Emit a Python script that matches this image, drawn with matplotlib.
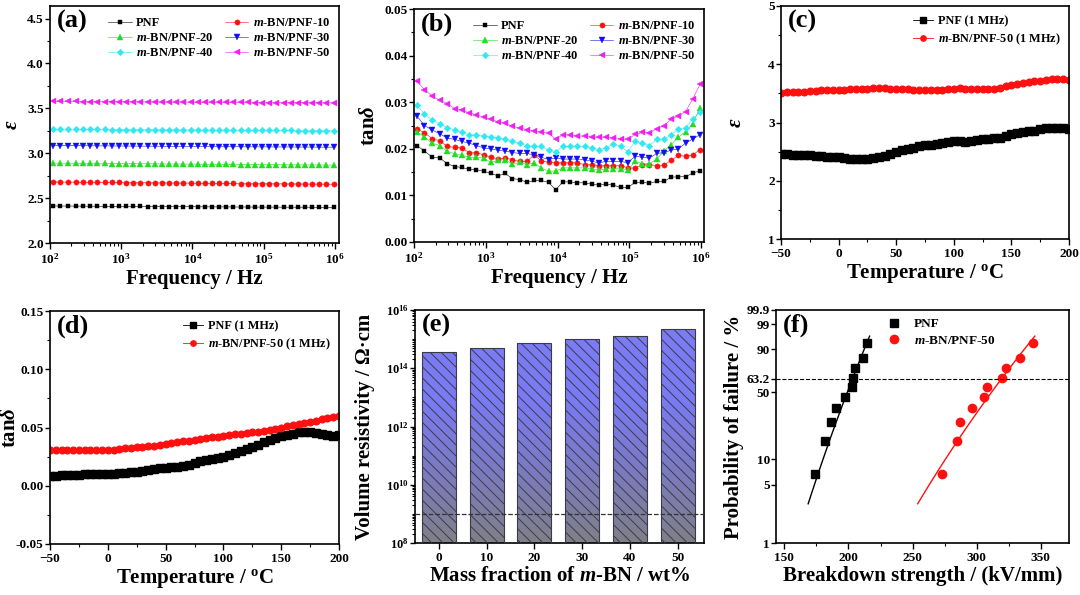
import numpy as np
import matplotlib
matplotlib.use('Agg')
import matplotlib.pyplot as plt
from matplotlib.colors import LinearSegmentedColormap
from matplotlib.ticker import (MultipleLocator, LogLocator, FixedLocator,
                               FixedFormatter, FuncFormatter, NullFormatter,
                               NullLocator)

plt.rcParams['font.family'] = 'Liberation Serif'
plt.rcParams['font.weight'] = 'bold'
plt.rcParams['mathtext.fontset'] = 'custom'
plt.rcParams['mathtext.rm'] = 'Liberation Serif:bold'
plt.rcParams['mathtext.it'] = 'Liberation Serif:italic:bold'
plt.rcParams['mathtext.bf'] = 'Liberation Serif:bold'
plt.rcParams['axes.linewidth'] = 1.2
plt.rcParams['xtick.major.width'] = 1.0
plt.rcParams['ytick.major.width'] = 1.0
plt.rcParams['xtick.minor.width'] = 0.8
plt.rcParams['ytick.minor.width'] = 0.8
plt.rcParams['xtick.major.size'] = 4
plt.rcParams['ytick.major.size'] = 3.5
plt.rcParams['xtick.minor.size'] = 2
plt.rcParams['ytick.minor.size'] = 2
plt.rcParams['xtick.major.pad'] = 2.5
plt.rcParams['ytick.major.pad'] = 1
plt.rcParams['hatch.linewidth'] = 0.7

# ---- (a)/(b) frequency sweep ----
freq = [110, 140, 180, 230, 290, 370, 460, 590, 740, 930,
        1170, 1480, 1860, 2350, 2960, 3730, 4700, 5920, 7460, 9400,
        11800, 14900, 18800, 23700, 29900, 37600, 47400, 59700, 75300, 94900,
        119600, 150700, 189900, 239200, 301400, 379800, 478600, 603000, 759800, 957400]

sample_names = ['PNF', '$m$-BN/PNF-10', '$m$-BN/PNF-20',
                '$m$-BN/PNF-30', '$m$-BN/PNF-40', '$m$-BN/PNF-50']

eps_pnf = [2.413, 2.412, 2.412, 2.411, 2.411, 2.410, 2.410, 2.409, 2.409, 2.408,
           2.408, 2.407, 2.407, 2.406, 2.406, 2.405, 2.405, 2.404, 2.404, 2.404,
           2.403, 2.403, 2.402, 2.402, 2.402, 2.401, 2.401, 2.401, 2.400, 2.400,
           2.400, 2.400, 2.399, 2.399, 2.399, 2.399, 2.398, 2.398, 2.398, 2.397]
eps_10 = [2.680, 2.679, 2.678, 2.678, 2.677, 2.676, 2.676, 2.675, 2.674, 2.674,
          2.673, 2.672, 2.672, 2.671, 2.670, 2.670, 2.669, 2.668, 2.668, 2.667,
          2.666, 2.666, 2.665, 2.664, 2.664, 2.663, 2.662, 2.662, 2.661, 2.660,
          2.660, 2.659, 2.659, 2.658, 2.658, 2.657, 2.657, 2.656, 2.656, 2.655]
eps_20 = [2.890, 2.889, 2.889, 2.888, 2.888, 2.887, 2.886, 2.886, 2.885, 2.885,
          2.884, 2.883, 2.883, 2.882, 2.882, 2.881, 2.880, 2.880, 2.879, 2.879,
          2.878, 2.877, 2.877, 2.876, 2.876, 2.875, 2.874, 2.874, 2.873, 2.873,
          2.872, 2.872, 2.871, 2.871, 2.870, 2.870, 2.869, 2.869, 2.868, 2.868]
eps_30 = [3.085, 3.085, 3.084, 3.084, 3.083, 3.083, 3.082, 3.082, 3.081, 3.081,
          3.080, 3.080, 3.079, 3.079, 3.078, 3.078, 3.077, 3.077, 3.076, 3.076,
          3.075, 3.075, 3.074, 3.074, 3.073, 3.073, 3.072, 3.072, 3.071, 3.071,
          3.071, 3.070, 3.070, 3.070, 3.069, 3.069, 3.069, 3.068, 3.068, 3.068]
eps_40 = [3.268, 3.268, 3.267, 3.267, 3.266, 3.266, 3.265, 3.265, 3.264, 3.264,
          3.263, 3.263, 3.262, 3.262, 3.261, 3.261, 3.260, 3.260, 3.259, 3.259,
          3.258, 3.258, 3.257, 3.257, 3.257, 3.256, 3.256, 3.256, 3.255, 3.255,
          3.255, 3.254, 3.254, 3.254, 3.253, 3.253, 3.253, 3.252, 3.252, 3.252]
eps_50 = [3.578, 3.578, 3.577, 3.577, 3.576, 3.576, 3.575, 3.575, 3.574, 3.574,
          3.573, 3.573, 3.572, 3.572, 3.571, 3.571, 3.570, 3.570, 3.569, 3.569,
          3.568, 3.568, 3.567, 3.567, 3.567, 3.566, 3.566, 3.566, 3.565, 3.565,
          3.565, 3.564, 3.564, 3.564, 3.563, 3.563, 3.563, 3.562, 3.562, 3.562]

tan_pnf = [0.0207, 0.0195, 0.0182, 0.0180, 0.0168, 0.0162, 0.0160, 0.0156, 0.0155, 0.0152,
           0.0147, 0.0142, 0.0147, 0.0136, 0.0134, 0.0128, 0.0132, 0.0132, 0.0128, 0.0112,
           0.0129, 0.0129, 0.0127, 0.0127, 0.0124, 0.0122, 0.0124, 0.0122, 0.0117, 0.0117,
           0.0128, 0.0128, 0.0126, 0.0130, 0.0130, 0.0139, 0.0140, 0.0140, 0.0148, 0.0153]
tan_10 = [0.0243, 0.0234, 0.0222, 0.0217, 0.0205, 0.0203, 0.0202, 0.0192, 0.0192, 0.0187,
          0.0182, 0.0178, 0.0180, 0.0177, 0.0173, 0.0173, 0.0187, 0.0174, 0.0171, 0.0170,
          0.0170, 0.0170, 0.0170, 0.0166, 0.0166, 0.0164, 0.0164, 0.0164, 0.0164, 0.0159,
          0.0159, 0.0166, 0.0166, 0.0164, 0.0165, 0.0175, 0.0186, 0.0184, 0.0187, 0.0198]
tan_20 = [0.0237, 0.0225, 0.0212, 0.0207, 0.0195, 0.0189, 0.0186, 0.0182, 0.0182, 0.0180,
          0.0171, 0.0175, 0.0177, 0.0167, 0.0171, 0.0166, 0.0170, 0.0159, 0.0152, 0.0152,
          0.0159, 0.0159, 0.0159, 0.0159, 0.0157, 0.0155, 0.0157, 0.0157, 0.0157, 0.0154,
          0.0173, 0.0168, 0.0168, 0.0178, 0.0195, 0.0209, 0.0225, 0.0237, 0.0254, 0.0288]
tan_30 = [0.0270, 0.0250, 0.0240, 0.0232, 0.0223, 0.0220, 0.0216, 0.0212, 0.0207, 0.0202,
          0.0200, 0.0197, 0.0195, 0.0192, 0.0190, 0.0190, 0.0187, 0.0182, 0.0177, 0.0180,
          0.0178, 0.0178, 0.0178, 0.0177, 0.0173, 0.0170, 0.0173, 0.0173, 0.0173, 0.0170,
          0.0184, 0.0182, 0.0180, 0.0190, 0.0192, 0.0197, 0.0200, 0.0212, 0.0221, 0.0230]
tan_40 = [0.0293, 0.0275, 0.0261, 0.0254, 0.0245, 0.0241, 0.0235, 0.0230, 0.0230, 0.0228,
          0.0225, 0.0224, 0.0221, 0.0216, 0.0212, 0.0207, 0.0205, 0.0205, 0.0197, 0.0194,
          0.0205, 0.0205, 0.0205, 0.0205, 0.0202, 0.0198, 0.0202, 0.0210, 0.0205, 0.0194,
          0.0216, 0.0212, 0.0207, 0.0220, 0.0220, 0.0230, 0.0243, 0.0245, 0.0265, 0.0278]
tan_50 = [0.0345, 0.0327, 0.0313, 0.0304, 0.0297, 0.0286, 0.0283, 0.0277, 0.0273, 0.0268,
          0.0263, 0.0258, 0.0255, 0.0248, 0.0245, 0.0241, 0.0238, 0.0235, 0.0234, 0.0220,
          0.0230, 0.0230, 0.0228, 0.0227, 0.0225, 0.0225, 0.0225, 0.0224, 0.0222, 0.0220,
          0.0231, 0.0235, 0.0234, 0.0243, 0.0250, 0.0263, 0.0270, 0.0280, 0.0307, 0.0338]

eps_all = [eps_pnf, eps_10, eps_20, eps_30, eps_40, eps_50]
tan_all = [tan_pnf, tan_10, tan_20, tan_30, tan_40, tan_50]

# ---- (c)/(d) temperature sweep at 1 MHz ----
temp = [-50, -45, -40, -35, -30, -25, -20, -15, -10, -5, 0, 5, 10, 15, 20, 25, 30,
        35, 40, 45, 50, 55, 60, 65, 70, 75, 80, 85, 90, 95, 100, 105, 110, 115,
        120, 125, 130, 135, 140, 145, 150, 155, 160, 165, 170, 175, 180, 185,
        190, 195, 200]
eps_t_pnf = [2.46, 2.46, 2.45, 2.45, 2.44, 2.44, 2.43, 2.42, 2.41, 2.40, 2.40, 2.39,
             2.38, 2.37, 2.37, 2.38, 2.39, 2.41, 2.43, 2.46, 2.49, 2.52, 2.55, 2.57,
             2.59, 2.61, 2.62, 2.63, 2.65, 2.67, 2.68, 2.68, 2.67, 2.68, 2.70, 2.71,
             2.72, 2.73, 2.74, 2.77, 2.80, 2.82, 2.84, 2.85, 2.86, 2.88, 2.90, 2.91,
             2.91, 2.90, 2.89]
eps_t_50 = [3.51, 3.52, 3.52, 3.53, 3.53, 3.54, 3.54, 3.55, 3.55, 3.55, 3.56, 3.56,
            3.57, 3.57, 3.58, 3.58, 3.59, 3.59, 3.59, 3.58, 3.58, 3.57, 3.57, 3.56,
            3.56, 3.55, 3.55, 3.55, 3.56, 3.57, 3.58, 3.59, 3.58, 3.58, 3.57, 3.57,
            3.57, 3.58, 3.60, 3.62, 3.64, 3.66, 3.68, 3.69, 3.71, 3.72, 3.73, 3.74,
            3.75, 3.74, 3.73]
tan_t_pnf = [0.0080, 0.0085, 0.0090, 0.0092, 0.0094, 0.0096, 0.0098, 0.0100, 0.0101,
             0.0102, 0.0103, 0.0105, 0.0110, 0.0113, 0.0116, 0.0120, 0.0128, 0.0136,
             0.0142, 0.0149, 0.0155, 0.0160, 0.0165, 0.0170, 0.0178, 0.0195, 0.0210,
             0.0222, 0.0232, 0.0242, 0.0250, 0.0262, 0.0280, 0.0298, 0.0315, 0.0335,
             0.0352, 0.0375, 0.0395, 0.0410, 0.0425, 0.0437, 0.0448, 0.0458, 0.0463,
             0.0460, 0.0450, 0.0440, 0.0432, 0.0428, 0.0435]
tan_t_50 = [0.0310, 0.0310, 0.0310, 0.0310, 0.0310, 0.0309, 0.0309, 0.0308, 0.0308,
            0.0308, 0.0309, 0.0311, 0.0315, 0.0320, 0.0325, 0.0330, 0.0335, 0.0340,
            0.0345, 0.0350, 0.0357, 0.0365, 0.0373, 0.0380, 0.0388, 0.0395, 0.0401,
            0.0407, 0.0415, 0.0422, 0.0430, 0.0435, 0.0440, 0.0447, 0.0452, 0.0458,
            0.0465, 0.0472, 0.0480, 0.0490, 0.0500, 0.0510, 0.0520, 0.0530, 0.0540,
            0.0550, 0.0560, 0.0570, 0.0580, 0.0592, 0.0603]

# ---- (e) volume resistivity ----
mass_frac = [0, 10, 20, 30, 40, 50]
resistivity = [3.5e14, 5.1e14, 7.2e14, 9.8e14, 1.29e15, 2.3e15]
resist_ref = 1e9

# ---- (f) Weibull breakdown ----
prob_fail = [6.7, 16.3, 26.0, 35.6, 45.2, 54.8, 64.4, 74.0, 83.7, 93.3]
eb_pnf = [173.9, 181.9, 186.1, 190.0, 197.0, 202.5, 203.8, 205.3, 211.3, 214.4]
eb_50 = [272.6, 284.3, 286.9, 296.2, 305.8, 307.7, 319.6, 323.2, 333.4, 344.0]
weibull_beta = [18.8, 15.3]
weibull_e0 = [203.1, 319.3]
fit_w_span = [-3.5, 1.2]
prob_ticks = [1, 5, 10, 50, 63.2, 90, 99, 99.9]
prob_labels = ['1', '5', '10', '50', '63.2', '90', '99', '99.9']

colors = ['#000000', '#ff1010', '#22dd22', '#1010f0', '#30e8f0', '#ee22ee']
markers = ['s', 'o', '^', 'v', 'D', '<']
msizes = [3.5, 3.8, 4.0, 4.0, 3.4, 4.0]

TICK_FS = 9.5
LABEL_FS = 15
PANEL_FS = 19
LEG_FS = 9

fig = plt.figure(figsize=(10.8, 5.95), dpi=100)


def box(l, r, t, b):
    return fig.add_axes([l / 1080, 1 - b / 595, (r - l) / 1080, (b - t) / 595])


def style(ax, tag, ylab_x):
    ax.tick_params(which='both', direction='out', top=False, right=False,
                   labelsize=TICK_FS)
    ax.text(0.025, 0.985, tag, transform=ax.transAxes, fontsize=PANEL_FS,
            fontweight='bold', va='top', ha='left')
    ax.yaxis.set_label_coords(ylab_x, 0.5)
    ax.xaxis.labelpad = 1.5


def log_fmt(v, pos):
    return r'$10^{%d}$' % int(round(np.log10(v)))


def freq_panel(ax, data, ylabel, tag, ylab_x):
    handles = []
    for vals, c, m, ms, name in zip(data, colors, markers, msizes, sample_names):
        h, = ax.plot(freq, vals, color=c, marker=m, ms=ms, lw=0.4,
                     markeredgewidth=0.3, label=name)
        handles.append(h)
    ax.set_xscale('log')
    ax.xaxis.set_major_formatter(FuncFormatter(log_fmt))
    ax.xaxis.set_minor_locator(LogLocator(base=10, subs=np.arange(2, 10)))
    ax.xaxis.set_minor_formatter(NullFormatter())
    ax.set_xlabel('Frequency / Hz', fontsize=LABEL_FS, fontweight='bold')
    ax.set_ylabel(ylabel, fontsize=LABEL_FS, fontweight='bold')
    order = [0, 2, 4, 1, 3, 5]
    ax.legend([handles[i] for i in order], [sample_names[i] for i in order],
              ncol=2, loc='upper right', bbox_to_anchor=(0.995, 0.985),
              frameon=False, fontsize=LEG_FS, handlelength=1.9,
              columnspacing=0.9, labelspacing=0.25, handletextpad=0.35,
              borderaxespad=0.2)
    style(ax, tag, ylab_x)


# (a)
ax = box(50, 339, 6, 243)
freq_panel(ax, eps_all, r'$\varepsilon$', '(a)', -0.097)
ax.set_xlim(100, 1.14e6)
ax.set_ylim(2.0, 4.64)
ax.yaxis.set_major_locator(MultipleLocator(0.5))
ax.yaxis.set_minor_locator(MultipleLocator(0.25))
ax.yaxis.set_major_formatter(FuncFormatter(lambda v, p: '%.1f' % v))

# (b)
ax = box(414, 704, 9, 242)
freq_panel(ax, tan_all, r'tan$\delta$', '(b)', -0.119)
ax.set_xlim(100, 1.09e6)
ax.set_ylim(0, 0.05)
ax.yaxis.set_major_locator(MultipleLocator(0.01))
ax.yaxis.set_minor_locator(MultipleLocator(0.005))
ax.yaxis.set_major_formatter(FuncFormatter(lambda v, p: '%.2f' % v))


def temp_panel(ax, y_pnf, y_50, ylabel, tag, ylab_x):
    ax.plot(temp, y_pnf, color='k', marker='s', ms=5.2, lw=0.6,
            label='PNF (1 MHz)')
    ax.plot(temp, y_50, color='#ff1010', marker='o', ms=4.8, lw=0.6,
            label='$m$-BN/PNF-50 (1 MHz)')
    ax.set_xlim(-50, 200)
    ax.xaxis.set_major_locator(MultipleLocator(50))
    ax.xaxis.set_minor_locator(MultipleLocator(25))
    ax.set_xlabel(r'Temperature / $^{\rm o}$C', fontsize=LABEL_FS, fontweight='bold')
    ax.set_ylabel(ylabel, fontsize=LABEL_FS, fontweight='bold')
    ax.legend(loc='upper right', bbox_to_anchor=(0.995, 0.99), frameon=False,
              fontsize=8.8, handlelength=1.6, labelspacing=0.3,
              handletextpad=0.4, borderaxespad=0.2, markerscale=0.8)
    style(ax, tag, ylab_x)


# (c)
ax = box(781, 1069, 6, 239)
temp_panel(ax, eps_t_pnf, eps_t_50, r'$\varepsilon$', '(c)', -0.122)
ax.set_ylim(1, 5)
ax.yaxis.set_major_locator(MultipleLocator(1))
ax.yaxis.set_minor_locator(MultipleLocator(0.5))

# (d)
ax = box(50, 339, 311, 544)
temp_panel(ax, tan_t_pnf, tan_t_50, r'tan$\delta$', '(d)', -0.1022)
ax.set_ylim(-0.05, 0.15)
ax.yaxis.set_major_locator(MultipleLocator(0.05))
ax.yaxis.set_minor_locator(MultipleLocator(0.025))
ax.yaxis.set_major_formatter(FuncFormatter(lambda v, p: '%.2f' % v))

# (e)
ax = box(415, 704, 310, 543)
ax.set_yscale('log')
bars = ax.bar(mass_frac, [r - 1e8 for r in resistivity], bottom=1e8, width=7.1,
              facecolor='none', edgecolor='#3a3a4a', linewidth=0.8,
              hatch='\\\\\\', zorder=3)
grad_cmap = LinearSegmentedColormap.from_list(
    'grad', [(0.0, '#808088'), (0.35, '#7a7ac8'), (0.6, '#7a7af2'), (1.0, '#7c7cf6')])
for bar in bars:
    im = ax.imshow(np.linspace(0, 1, 256).reshape(-1, 1), extent=[0, 1, 0, 1],
                   transform=ax.transAxes, origin='lower', cmap=grad_cmap,
                   aspect='auto', zorder=2)
    im.set_clip_path(bar)
ax.axhline(resist_ref, color='#333333', ls='--', lw=0.9, zorder=4)
ax.set_xlim(-5, 55.5)
ax.set_ylim(1e8, 1e16)
ax.set_xticks(mass_frac)
ax.yaxis.set_major_locator(FixedLocator([1e8, 1e10, 1e12, 1e14, 1e16]))
ax.yaxis.set_major_formatter(FuncFormatter(log_fmt))
ax.yaxis.set_minor_locator(LogLocator(base=10, subs=np.arange(1, 10), numticks=20))
ax.yaxis.set_minor_formatter(NullFormatter())
ax.set_xlabel('Mass fraction of $m$-BN / wt%', fontsize=LABEL_FS, fontweight='bold')
ax.set_ylabel(r'Volume resistivity / Ω·cm', fontsize=LABEL_FS, fontweight='bold')
style(ax, '(e)', -0.137)
ax.tick_params(axis='y', labelsize=9)
ax.xaxis.set_minor_locator(NullLocator())


# (f)
def wb_fwd(p):
    p = np.clip(np.asarray(p, dtype=float), 1e-6, 100 - 1e-6)
    return np.log(-np.log(1 - p / 100.0))


def wb_inv(w):
    return 100.0 * (1 - np.exp(-np.exp(w)))


ax = box(776, 1069, 310, 543)
ax.set_yscale('function', functions=(wb_fwd, wb_inv))
ax.plot(eb_pnf, prob_fail, ls='none', marker='s', ms=6, color='k', label='PNF')
ax.plot(eb_50, prob_fail, ls='none', marker='o', ms=6, color='#ff1010',
        label='$m$-BN/PNF-50')
w_line = np.linspace(fit_w_span[0], fit_w_span[1], 50)
for beta, e0, c in zip(weibull_beta, weibull_e0, ['k', '#ff1010']):
    ax.plot(e0 * np.exp(w_line / beta), wb_inv(w_line), color=c, lw=1.0)
ax.axhline(63.2, color='k', ls='--', lw=0.8)
ax.set_xlim(143.5, 372)
ax.set_ylim(1, 99.9)
ax.yaxis.set_major_locator(FixedLocator(prob_ticks))
ax.yaxis.set_major_formatter(FixedFormatter(prob_labels))
ax.yaxis.set_minor_locator(NullLocator())
ax.xaxis.set_major_locator(MultipleLocator(50))
ax.xaxis.set_minor_locator(MultipleLocator(25))
ax.set_xlabel('Breakdown strength / (kV/mm)', fontsize=LABEL_FS, fontweight='bold')
ax.set_ylabel('Probability of failure / %', fontsize=LABEL_FS, fontweight='bold')
ax.legend(loc='upper left', bbox_to_anchor=(0.33, 1.0), frameon=False,
          fontsize=9.5, handletextpad=0.5, labelspacing=0.35, borderaxespad=0.2)
style(ax, '(f)', -0.109)

fig.savefig('out.png', dpi=100)
